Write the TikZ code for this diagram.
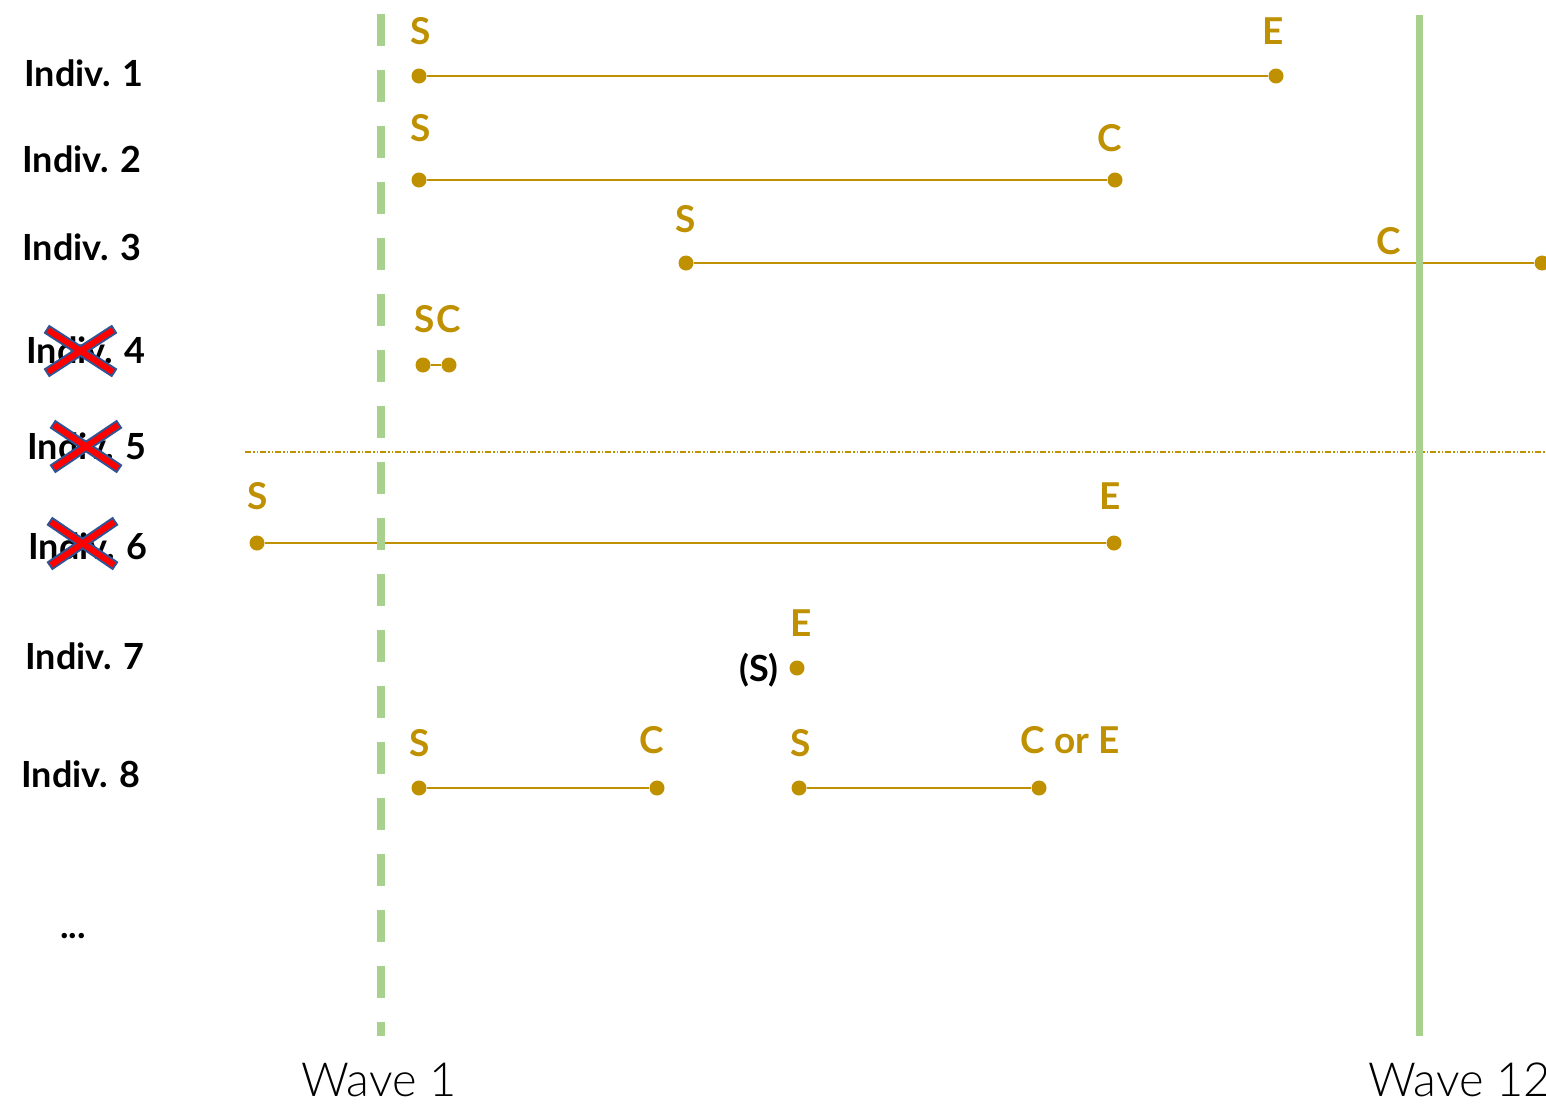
\documentclass[tikz,border=0pt]{standalone}
\usepackage{fontspec}
\usetikzlibrary{calc}
\setmainfont{Lato}
\newfontfamily\lightf{Lato Light}
\definecolor{gold}{HTML}{BF9000}
\definecolor{wgreen}{HTML}{A9D18E}
\definecolor{xblue}{HTML}{2F5597}
\begin{document}
\begin{tikzpicture}[x=1pt,y=-1pt,
  lbl/.style={font=\bfseries\fontsize{36}{40}\selectfont, anchor=base, inner sep=0pt},
  gl/.style={font=\bfseries\fontsize{37}{40}\selectfont, text=gold, anchor=base, inner sep=0pt},
  dot/.style={circle, fill=gold, inner sep=0pt, minimum size=15pt},
  seg/.style={gold, line width=2.6pt},
  wave/.style={font=\lightf\fontsize{47}{50}\selectfont, anchor=base, inner sep=0pt},
  xout/.style={xblue, line width=10pt, line cap=butt},
  xin/.style={red, line width=6pt, line cap=butt}]
\useasboundingbox (0,0) rectangle (1546,1103);
\fill[white] (0,0) rectangle (1546,1103);

% separator
\coordinate (sepL) at (245,452);
\coordinate (sepR) at (1546,452);
\draw[gold, line width=1.2pt, dash pattern=on 6pt off 2pt on 1.5pt off 2pt on 1.5pt off 2pt] (sepL) -- (sepR);

% row labels
\node[lbl] (i1) at (84,86) {Indiv. 1};
\node[lbl] (i2) at (82,172) {Indiv. 2};
\node[lbl] (i3) at (82,260) {Indiv. 3};
\node[lbl] (i4) at (86,363) {Indiv. 4};
\node[lbl] (i5) at (87,459) {Indiv. 5};
\node[lbl] (i6) at (88,559) {Indiv. 6};
\node[lbl] (i7) at (85,669) {Indiv. 7};
\node[lbl] (i8) at (81,787) {Indiv. 8};
\node[lbl] (dots) at (73,938) {...};

% crosses
\foreach \ax/\ay/\bx/\by [count=\k] in {48/330/113/372, 54/425/118/468, 51/522/114/565}{
  \coordinate (c\k a) at (\ax,\ay);
  \coordinate (c\k b) at (\bx,\by);
  \coordinate (c\k c) at (\ax,\by);
  \coordinate (c\k d) at (\bx,\ay);
  \draw[xout] ($(c\k a)!-2pt!(c\k b)$) -- ($(c\k b)!-2pt!(c\k a)$);
  \draw[xout] ($(c\k c)!-2pt!(c\k d)$) -- ($(c\k d)!-2pt!(c\k c)$);
  \draw[xin] (c\k a) -- (c\k b);
  \draw[xin] (c\k c) -- (c\k d);
}

% row 1
\node[gl] (s1) at (421,44) {S};
\node[gl] (e1) at (1273,44) {E};
\node[dot] (p1a) at (419,76) {};
\node[dot] (p1b) at (1276,76) {};
\draw[seg] (p1a) -- (p1b);
% row 2
\node[gl] (s2) at (421,141) {S};
\node[gl] (c2) at (1110,151) {C};
\node[dot] (p2a) at (419,180) {};
\node[dot] (p2b) at (1115,180) {};
\draw[seg] (p2a) -- (p2b);
% row 3
\node[gl] (s3) at (686,232) {S};
\node[gl] (c3) at (1389,254) {C};
\node[dot] (p3a) at (686,263) {};
\node[dot] (p3b) at (1542,263) {};
\draw[seg] (p3a) -- (p3b);
% row 4
\node[gl] (sc4) at (438,332) {S\kern2ptC};
\node[dot] (p4a) at (423,365) {};
\node[dot] (p4b) at (449,365) {};
\draw[seg] (p4a) -- (p4b);
% row 6
\node[gl] (s6) at (258,509) {S};
\node[gl] (e6) at (1110,509) {E};
\node[dot] (p6a) at (257,543) {};
\node[dot] (p6b) at (1114,543) {};
\draw[seg] (p6a) -- (p6b);
% row 7
\node[gl] (e7) at (801,636) {E};
\node[lbl] (s7) at (759,681) {(S)};
\node[dot] (p7) at (797,668) {};
% row 8
\node[gl] (s8a) at (420,756) {S};
\node[gl] (c8a) at (652,753) {C};
\node[gl] (s8b) at (801,756) {S};
\node[gl] (c8b) at (1070,753) {C or E};
\node[dot] (p8a) at (419,788) {};
\node[dot] (p8b) at (657,788) {};
\node[dot] (p8c) at (799,788) {};
\node[dot] (p8d) at (1039,788) {};
\draw[seg] (p8a) -- (p8b);
\draw[seg] (p8c) -- (p8d);

% waves
\coordinate (w1t) at (381,14);
\coordinate (w1b) at (381,1036);
\coordinate (w12t) at (1419,15);
\coordinate (w12b) at (1419,1036);
\draw[wgreen, line width=8pt, dash pattern=on 32pt off 24pt] (w1t) -- (w1b);
\draw[wgreen, line width=7pt] (w12t) -- (w12b);
\node[wave] (wl1) at (379,1096) {Wave 1};
\node[wave, anchor=base west] (wl12) at (1368,1096) {Wave 12};
\end{tikzpicture}
\end{document}
